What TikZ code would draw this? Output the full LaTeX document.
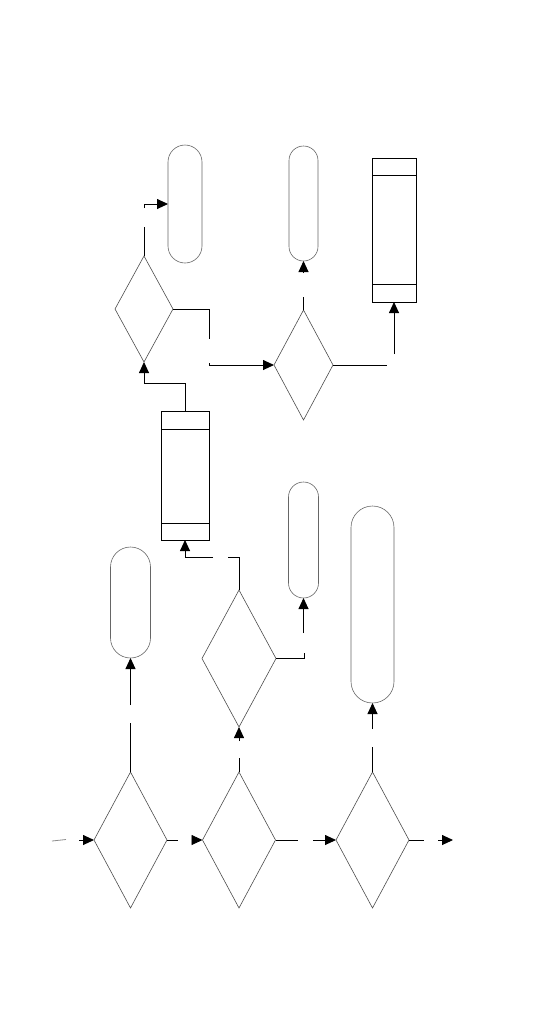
\documentclass[tikz,border=0pt]{standalone}
\usetikzlibrary{shapes.geometric,arrows.meta,calc}
\begin{document}
\begin{tikzpicture}[x=1pt,y=-1pt,
  dec/.style={diamond,draw=black!70,line width=0.6pt,inner sep=0pt,outer sep=0pt},
  term/.style={rectangle,draw=black!60,line width=0.6pt,inner sep=0pt,outer sep=0pt},
  store/.style={rectangle,draw=black,line width=0.9pt,inner sep=0pt,outer sep=0pt},
  conn/.style={draw=black,line width=0.9pt},
  arr/.style={conn,-{Triangle[length=11pt,width=10pt]}}]
\useasboundingbox (0,0) rectangle (540,1026);
% decisions
\node[dec,minimum width=73pt,minimum height=136pt] (d1) at (130.5,840) {};
\node[dec,minimum width=73pt,minimum height=136pt] (d2) at (239,840) {};
\node[dec,minimum width=73pt,minimum height=136pt] (d3) at (372.5,840) {};
\node[dec,minimum width=74pt,minimum height=137pt] (d4) at (239,658.5) {};
\node[dec,minimum width=58pt,minimum height=106pt] (d5) at (144,309) {};
\node[dec,minimum width=59pt,minimum height=110pt] (d6) at (303.5,365) {};
% terminals
\node[term,minimum width=40pt,minimum height=111pt,rounded corners=20pt] (t1) at (130.5,602.5) {};
\node[term,minimum width=30pt,minimum height=116pt,rounded corners=15pt] (t2) at (303.5,540) {};
\node[term,minimum width=34pt,minimum height=118pt,rounded corners=17pt] (t3) at (185,204) {};
\node[term,minimum width=29pt,minimum height=115pt,rounded corners=14.5pt] (t4) at (303.5,203.5) {};
\node[term,minimum width=43pt,minimum height=197pt,rounded corners=21.5pt] (t5) at (372.5,604.5) {};
% stores
\node[store,minimum width=48pt,minimum height=129pt] (r1) at (185,475.5) {};
\draw[line width=0.9pt] ($(r1.north west)+(0,18)$) -- ($(r1.north east)+(0,18)$);
\draw[line width=0.9pt] ($(r1.south west)+(0,-17)$) -- ($(r1.south east)+(0,-17)$);
\node[store,minimum width=44pt,minimum height=144pt] (r2) at (394,230) {};
\draw[line width=0.9pt] ($(r2.north west)+(0,17)$) -- ($(r2.north east)+(0,17)$);
\draw[line width=0.9pt] ($(r2.south west)+(0,-18)$) -- ($(r2.south east)+(0,-18)$);
% free ends
\coordinate (in0) at (52,841);
\coordinate (in1) at (66,839.5);
\coordinate (a1) at (79,840);
\coordinate (e1) at (178,840);
\coordinate (a2) at (192,840);
\coordinate (e2) at (298,840);
\coordinate (a3) at (313,840);
\coordinate (e3) at (424,840);
\coordinate (a4) at (438,840);
\coordinate (out) at (453,840);
\coordinate (u1) at (130.5,723);
\coordinate (v1) at (130.5,705);
\coordinate (u2) at (239,758);
\coordinate (v2) at (239,741);
\coordinate (u3) at (372.5,747);
\coordinate (v3) at (372.5,729);
\coordinate (u4) at (304,653);
\coordinate (v4) at (303.5,633);
\coordinate (u5) at (228,557);
\coordinate (v5) at (213,557);
\coordinate (u6) at (144,227);
\coordinate (v6) at (144,208);
\coordinate (u7) at (209,339);
\coordinate (v7) at (209,363);
\coordinate (u8) at (303.5,297);
\coordinate (v8) at (303.5,273);
\coordinate (u9) at (387,365);
\coordinate (v9) at (394,354);
% connectors
\draw[draw=black!45,line width=0.8pt] (in0) -- (in1);
\draw[arr] (a1) -- (d1.west);
\draw[conn] (d1.east) -- (e1);
\draw[arr] (a2) -- (d2.west);
\draw[conn] (d2.east) -- (e2);
\draw[arr] (a3) -- (d3.west);
\draw[conn] (d3.east) -- (e3);
\draw[arr] (a4) -- (out);
\draw[conn] (d1.north) -- (u1);
\draw[arr] (v1) -- (t1.south);
\draw[conn] (d2.north) -- (u2);
\draw[arr] (v2) -- (d4.south);
\draw[conn] (d3.north) -- (u3);
\draw[arr] (v3) -- (t5.south);
\draw[conn] (d4.east) -| (u4);
\draw[arr] (v4) -- (t2.south);
\draw[conn] (d4.north) |- (u5);
\draw[arr] (v5) -| (r1.south);
\draw[arr] (r1.north) |- ++(0,-28) -| (d5.south);
\draw[conn] (d5.north) -- (u6);
\draw[arr] (v6) |- (t3.west);
\draw[conn] (d5.east) -| (u7);
\draw[arr] (v7) |- (d6.west);
\draw[conn] (d6.north) -- (u8);
\draw[arr] (v8) -- (t4.south);
\draw[conn] (d6.east) -- (u9);
\draw[arr] (v9) -- (r2.south);
\end{tikzpicture}
\end{document}
